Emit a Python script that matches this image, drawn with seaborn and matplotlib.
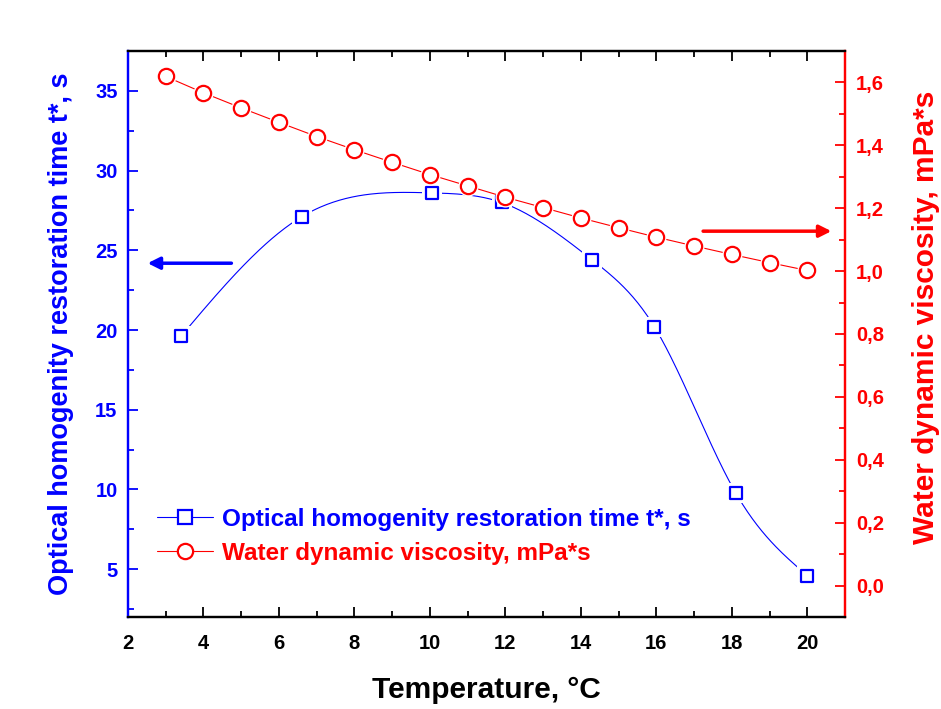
import numpy as np
import pandas as pd
import matplotlib
matplotlib.use("Agg")
import matplotlib.pyplot as plt
from matplotlib.lines import Line2D
from matplotlib.ticker import MultipleLocator, FuncFormatter
import seaborn as sns

# ---- data ----
temp_t = [3.4, 6.6, 10.05, 11.9, 14.3, 15.95, 18.1, 20.0]
time_t = [19.6, 27.1, 28.6, 28.0, 24.4, 20.2, 9.8, 4.6]

temp_v = [3, 4, 5, 6, 7, 8, 9, 10, 11, 12, 13, 14, 15, 16, 17, 18, 19, 20]
visc_v = [1.619, 1.567, 1.519, 1.473, 1.428, 1.386, 1.346, 1.307, 1.271,
          1.235, 1.202, 1.169, 1.138, 1.108, 1.080, 1.053, 1.027, 1.002]

label_t = "Optical homogenity restoration time t*, s"
label_v = "Water dynamic viscosity, mPa*s"
xlabel = "Temperature, \u00b0C"

BLUE = "#0000ff"
RED = "#ff0000"

sns.set_theme(style="ticks")
plt.rcParams["font.family"] = ["Liberation Sans", "DejaVu Sans"]
plt.rcParams["font.weight"] = "bold"


def natural_spline(x, y, n=400):
    x = np.asarray(x, float)
    y = np.asarray(y, float)
    m = len(x)
    h = np.diff(x)
    A = np.zeros((m, m))
    b = np.zeros(m)
    A[0, 0] = 1
    A[-1, -1] = 1
    for i in range(1, m - 1):
        A[i, i - 1] = h[i - 1]
        A[i, i] = 2 * (h[i - 1] + h[i])
        A[i, i + 1] = h[i]
        b[i] = 6 * ((y[i + 1] - y[i]) / h[i] - (y[i] - y[i - 1]) / h[i - 1])
    M = np.linalg.solve(A, b)
    xs = np.linspace(x[0], x[-1], n)
    idx = np.clip(np.searchsorted(x, xs) - 1, 0, m - 2)
    x0, x1 = x[idx], x[idx + 1]
    hh = x1 - x0
    t0 = x1 - xs
    t1 = xs - x0
    ys = (M[idx] * t0 ** 3 / (6 * hh) + M[idx + 1] * t1 ** 3 / (6 * hh)
          + (y[idx] / hh - M[idx] * hh / 6) * t0
          + (y[idx + 1] / hh - M[idx + 1] * hh / 6) * t1)
    return xs, ys


df_t = pd.DataFrame({"T": temp_t, "t": time_t})
df_v = pd.DataFrame({"T": temp_v, "v": visc_v})

fig = plt.figure(figsize=(9.41, 7.09), dpi=100)
ax = fig.add_axes([128 / 941, 1 - 617 / 709, (845 - 128) / 941, (617 - 51) / 709])
ax2 = ax.twinx()

# blue series: smooth spline + squares
xs, ys = natural_spline(temp_t, time_t)
ax.plot(xs, ys, color=BLUE, lw=0.8, zorder=2)
ax.plot(temp_t, time_t, ls="none", marker="s", ms=14, mfc="white", mec="white",
        mew=0, zorder=3)
sns.scatterplot(data=df_t, x="T", y="t", ax=ax, marker="s", s=75,
                facecolor="white", edgecolor=BLUE, linewidth=1.6, zorder=4)

# red series: line + circles
sns.lineplot(data=df_v, x="T", y="v", ax=ax2, color=RED, lw=0.8, zorder=2)
ax2.plot(temp_v, visc_v, ls="none", marker="o", ms=14.5, mfc="white", mec="white",
         mew=0, zorder=3)
ax2.plot(temp_v, visc_v, ls="none", marker="o", ms=11, mfc="white", mec=RED,
         mew=1.6, zorder=4)

# limits
ax.set_xlim(2, 21)
ax.set_ylim(2, 37.5)
ax2.set_ylim(-0.1, 1.7)

ax.xaxis.set_major_locator(MultipleLocator(2))
ax.xaxis.set_minor_locator(MultipleLocator(1))
ax.yaxis.set_major_locator(MultipleLocator(5))
ax.yaxis.set_minor_locator(MultipleLocator(2.5))
ax2.yaxis.set_major_locator(MultipleLocator(0.2))
ax2.yaxis.set_minor_locator(MultipleLocator(0.1))
ax2.yaxis.set_major_formatter(FuncFormatter(lambda v, p: f"{v:.1f}".replace(".", ",")))
ax.yaxis.set_major_formatter(FuncFormatter(lambda v, p: f"{v:.0f}"))

# spines
for a in (ax, ax2):
    for s in a.spines.values():
        s.set_linewidth(1.6)
        s.set_color("black")
ax.spines["left"].set_color(BLUE)
ax2.spines["left"].set_color(BLUE)
ax2.spines["right"].set_color(RED)
ax.spines["right"].set_color(RED)

TS = 14.5
ax.tick_params(axis="x", which="both", direction="in", top=True, bottom=True,
               labelsize=TS, pad=12, width=1.3, colors="black")
ax.tick_params(axis="x", which="major", length=7.5)
ax.tick_params(axis="x", which="minor", length=4)
ax.tick_params(axis="y", which="both", direction="in", left=True, right=False,
               labelsize=TS, pad=7.5, width=1.3, colors=BLUE)
ax.tick_params(axis="y", which="major", length=7.5)
ax.tick_params(axis="y", which="minor", length=4)
ax2.tick_params(axis="y", which="both", direction="in", right=True, left=False,
                labelsize=TS, pad=8, width=1.3, colors=RED)
ax2.tick_params(axis="y", which="major", length=7.5)
ax2.tick_params(axis="y", which="minor", length=4)
for lab in ax.get_xticklabels() + ax.get_yticklabels() + ax2.get_yticklabels():
    lab.set_fontweight("bold")

ax.set_xlabel(xlabel, fontsize=21.5, fontweight="bold", color="black", labelpad=17)
ax.set_ylabel(label_t, fontsize=19.5, fontweight="bold", color=BLUE, labelpad=15.5)
ax2.set_ylabel(label_v, fontsize=21.5, fontweight="bold", color=RED, labelpad=20)
ax2.yaxis.label.set_y(0.53)

# arrows
ax.annotate("", xy=(2.52, 24.19), xytext=(4.74, 24.19),
            arrowprops=dict(arrowstyle="-|>", color=BLUE, lw=2.5,
                            mutation_scale=18, shrinkA=0, shrinkB=0))
ax2.annotate("", xy=(20.64, 1.127), xytext=(17.24, 1.127),
             arrowprops=dict(arrowstyle="-|>", color=RED, lw=2.5,
                             mutation_scale=18, shrinkA=0, shrinkB=0))

# legend
handles = [
    Line2D([], [], color=BLUE, lw=0.8, marker="s", ms=10, mfc="white",
           mec=BLUE, mew=1.6),
    Line2D([], [], color=RED, lw=0.8, marker="o", ms=11, mfc="white",
           mec=RED, mew=1.6),
]
leg = ax2.legend(handles, [label_t, label_v], loc="upper left",
                 bbox_to_anchor=(157 / 941, 1 - 508 / 709),
                 bbox_transform=fig.transFigure, frameon=False,
                 prop=dict(size=17.5, weight="bold"), handlelength=2.3,
                 handletextpad=0.37, borderpad=0, borderaxespad=0,
                 labelspacing=0.45)
for txt, c in zip(leg.get_texts(), [BLUE, RED]):
    txt.set_color(c)

fig.savefig("out.png", dpi=100, facecolor="white")
